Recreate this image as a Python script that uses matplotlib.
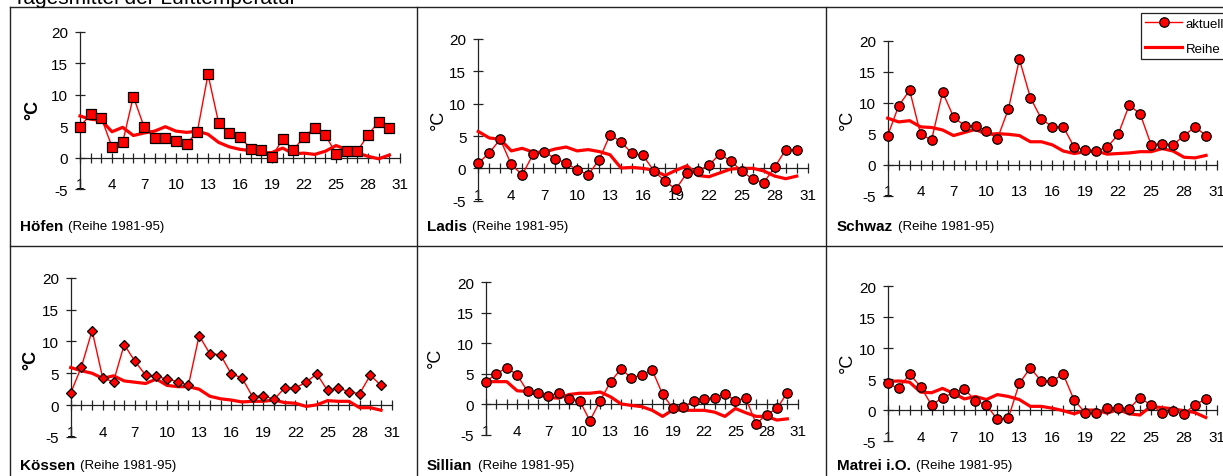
import matplotlib
matplotlib.use("Agg")
import matplotlib.pyplot as plt
from matplotlib.lines import Line2D

plt.rcParams['font.family'] = ['Liberation Sans', 'DejaVu Sans']
plt.rcParams['axes.unicode_minus'] = False

W, H = 1223, 477

days = list(range(1, 31))
x_ticks_major = list(range(1, 32, 3))
y_ticks = [-5, 0, 5, 10, 15, 20]

title = "Tagesmittel der Lufttemperatur"
series_labels = ["aktuell", "Reihe"]
period_label = "(Reihe 1981-95)"
unit_label = "°C"

hoefen_aktuell = [4.9, 6.9, 6.3, 1.7, 2.4, 9.7, 4.9, 3.1, 3.1, 2.6, 2.2, 4.1, 13.2, 5.5, 3.9,
                  3.3, 1.4, 1.2, 0.05, 3.0, 1.2, 3.3, 4.7, 3.6, 0.6, 1.0, 1.0, 3.6, 5.7, 4.7]
hoefen_reihe = [6.6, 6.1, 5.9, 4.1, 4.8, 3.5, 3.9, 4.2, 4.9, 4.2, 4.0, 4.2, 3.7, 2.4, 1.7,
                1.3, 1.1, 0.7, 0.8, 1.5, 0.6, 0.7, 0.5, 1.0, 1.9, 1.3, 0.7, 0.2, -0.2, 0.4]

ladis_aktuell = [0.8, 2.4, 4.5, 0.6, -1.0, 2.2, 2.6, 1.5, 0.8, -0.2, -1.0, 1.3, 5.2, 4.1, 2.3,
                 2.0, -0.4, -2.0, -3.2, -0.7, -0.4, 0.5, 2.2, 1.1, -0.4, -1.7, -2.2, 0.2, 2.9, 2.9]
ladis_reihe = [5.7, 4.7, 4.5, 2.7, 3.1, 2.5, 2.5, 3.0, 3.3, 2.7, 2.9, 2.6, 2.1, 0.05, 0.15,
               0.0, -0.3, -1.1, -0.3, 0.4, -1.1, -1.3, -0.7, -0.1, 0.0, 0.0, -0.4, -1.2, -1.6, -1.2]

schwaz_aktuell = [4.7, 9.5, 12.0, 4.9, 4.0, 11.7, 7.7, 6.3, 6.3, 5.4, 4.2, 9.0, 17.0, 10.8, 7.4,
                  6.1, 6.1, 2.8, 2.4, 2.2, 2.8, 4.9, 9.6, 8.2, 3.2, 3.4, 3.2, 4.7, 6.1, 4.7]
schwaz_reihe = [7.5, 6.9, 7.1, 6.1, 6.0, 5.6, 4.7, 5.2, 5.7, 4.9, 5.0, 4.9, 4.7, 3.7, 3.7,
                3.2, 2.2, 1.8, 2.1, 2.2, 1.7, 1.8, 1.9, 2.1, 2.1, 2.6, 2.2, 1.2, 1.1, 1.5]

koessen_aktuell = [1.9, 6.0, 11.7, 4.2, 3.7, 9.5, 6.9, 4.7, 4.5, 4.1, 3.7, 3.1, 10.9, 8.1, 7.9,
                   4.9, 4.3, 1.3, 1.5, 0.9, 2.7, 2.7, 3.6, 4.9, 2.3, 2.7, 2.1, 1.8, 4.7, 3.1]
koessen_reihe = [5.9, 5.4, 5.0, 4.2, 4.6, 3.8, 3.6, 3.4, 4.1, 3.1, 2.9, 2.9, 2.5, 1.4, 1.0,
                 0.8, 0.5, 0.6, 0.6, 0.8, 0.4, 0.3, -0.2, 0.05, 0.7, 0.6, 0.6, -0.4, -0.4, -0.8]

sillian_aktuell = [3.7, 5.0, 6.0, 4.8, 2.1, 1.9, 1.4, 1.8, 0.8, 0.6, -2.7, 0.6, 3.7, 5.8, 4.3,
                   4.8, 5.6, 1.6, -0.7, -0.5, 0.6, 0.8, 1.1, 1.7, 0.6, 1.0, -3.2, -1.7, -0.7, 1.9]
sillian_reihe = [3.7, 3.7, 3.7, 2.2, 2.1, 1.6, 1.1, 1.0, 1.6, 1.8, 1.8, 2.0, 1.2, 0.05, -0.2,
                 -0.4, -1.0, -2.0, -0.9, -1.0, -1.0, -1.0, -1.3, -2.0, -0.7, -1.4, -2.0, -2.0, -2.6, -2.4]

matrei_aktuell = [4.3, 3.5, 5.8, 3.8, 0.8, 2.0, 2.8, 3.4, 1.5, 0.8, -1.5, -1.3, 4.3, 6.8, 4.7,
                  4.7, 5.8, 1.6, -0.4, -0.4, 0.4, 0.4, 0.2, 2.0, 0.8, -0.4, -0.2, -0.6, 0.8, 1.8]
matrei_reihe = [4.6, 4.7, 4.5, 2.9, 2.8, 3.5, 2.7, 1.8, 2.2, 1.7, 2.5, 2.2, 1.7, 0.6, 0.6,
                0.3, -0.1, -0.6, 0.0, 0.0, -0.5, 0.1, -0.6, -0.8, 0.6, 0.4, 0.2, -0.1, -0.4, -1.2]

stations = ["Höfen", "Ladis", "Schwaz", "Kössen", "Sillian", "Matrei i.O."]

RED = "#FF0000"

fig = plt.figure(figsize=(W / 100, H / 100), dpi=100)
fig.patch.set_facecolor("white")


def fx(x):
    return x / W


def fy(y):
    return 1 - y / H


# panel geometry in pixels: x of day 1, x of day 31, y of 20, y of -5
panels = [
    dict(name=stations[0], act=hoefen_aktuell, rei=hoefen_reihe, marker="s", ms=7.0,
         box=(80, 400, 32.7, 190), ylab=(33, 110), bold=True, lab=(20, 227)),
    dict(name=stations[1], act=ladis_aktuell, rei=ladis_reihe, marker="o", ms=6.8,
         box=(478.3, 807.7, 40, 201.7), ylab=(438, 120), bold=False, lab=(427, 227)),
    dict(name=stations[2], act=schwaz_aktuell, rei=schwaz_reihe, marker="o", ms=6.8,
         box=(887.7, 1217, 41.7, 196.7), ylab=(847, 120), bold=False, lab=(837, 227)),
    dict(name=stations[3], act=koessen_aktuell, rei=koessen_reihe, marker="D", ms=5.3,
         box=(70.7, 391.7, 278.7, 438), ylab=(31, 360), bold=True, lab=(20, 466)),
    dict(name=stations[4], act=sillian_aktuell, rei=sillian_reihe, marker="o", ms=6.8,
         box=(486, 797.7, 283.3, 435.7), ylab=(435, 358), bold=False, lab=(427, 466)),
    dict(name=stations[5], act=matrei_aktuell, rei=matrei_reihe, marker="o", ms=6.8,
         box=(887.7, 1216.7, 287.3, 442), ylab=(847, 363), bold=False, lab=(837, 466)),
]

name_texts = []
for p in panels:
    x1, x31, y20, ym5 = p["box"]
    ax = fig.add_axes([fx(x1), fy(ym5), (x31 - x1) / W, (ym5 - y20) / H])
    ax.patch.set_alpha(0)
    ax.set_xlim(1, 31)
    ax.set_ylim(-5, 20)
    for s in ("top", "right"):
        ax.spines[s].set_visible(False)
    ax.spines["left"].set_position(("data", 1))
    ax.spines["bottom"].set_position(("data", 0))
    for s in ("left", "bottom"):
        ax.spines[s].set_color("#222222")
        ax.spines[s].set_linewidth(0.9)
    ax.set_xticks(x_ticks_major)
    ax.set_xticks(days + [31], minor=True)
    ax.set_yticks(y_ticks)
    ax.tick_params(axis="x", which="both", direction="inout", length=7.2, width=0.9,
                   color="#222222", labelsize=11, pad=10.4)
    ax.tick_params(axis="y", which="both", direction="inout", length=7.2, width=0.9,
                   color="#222222", labelsize=11, pad=5)
    ax.plot(days, p["rei"], color=RED, lw=2.3, solid_joinstyle="round", clip_on=False, zorder=3)
    ax.plot(days, p["act"], color=RED, lw=1.0, marker=p["marker"], ms=p["ms"],
            mfc=RED, mec="black", mew=0.9, clip_on=False, zorder=4)
    fig.text(fx(p["ylab"][0]), fy(p["ylab"][1]), unit_label, rotation=90, fontsize=13,
             fontweight="bold" if p["bold"] else "normal", ha="center", va="center")
    t = fig.text(fx(p["lab"][0]), fy(p["lab"][1]), p["name"], fontsize=11,
                 fontweight="bold", ha="left", va="center")
    name_texts.append(t)

# title (partly cut off at the top edge)
fig.text(fx(13), fy(3.5), title, fontsize=15, ha="left", va="baseline")

# frame lines separating the panels
frame_kw = dict(color="#222222", lw=1.0, transform=fig.transFigure)
fig.add_artist(Line2D([fx(10), fx(10)], [fy(8), fy(477)], **frame_kw))
fig.add_artist(Line2D([fx(10), fx(1223)], [fy(8), fy(8)], **frame_kw))
fig.add_artist(Line2D([fx(10), fx(1223)], [fy(247.3), fy(247.3)], **frame_kw))
fig.add_artist(Line2D([fx(417.3), fx(417.3)], [fy(8), fy(477)], **frame_kw))
fig.add_artist(Line2D([fx(826), fx(826)], [fy(8), fy(477)], **frame_kw))

# "(Reihe 1981-95)" after each station name
fig.canvas.draw()
renderer = fig.canvas.get_renderer()
for t in name_texts:
    bb = t.get_window_extent(renderer)
    x_px = bb.x1 + 5
    y_frac = t.get_position()[1]
    fig.text(x_px / W, y_frac, period_label, fontsize=9.5, ha="left", va="center")

# legend in the upper right (clipped by the figure edge like the original)
handles = [
    Line2D([], [], color=RED, lw=1.0, marker="o", ms=6.8, mfc=RED, mec="black", mew=0.9),
    Line2D([], [], color=RED, lw=2.3),
]
leg = fig.legend(handles, series_labels, loc="upper left",
                 bbox_to_anchor=(fx(1140.7), fy(14)), fontsize=9.5, frameon=True,
                 fancybox=False, edgecolor="#222222", framealpha=1, handlelength=2.8,
                 handletextpad=0.25, labelspacing=0.95, borderpad=0.35, borderaxespad=0)
leg.get_frame().set_linewidth(0.9)

fig.savefig("out.png", dpi=100, facecolor="white")
